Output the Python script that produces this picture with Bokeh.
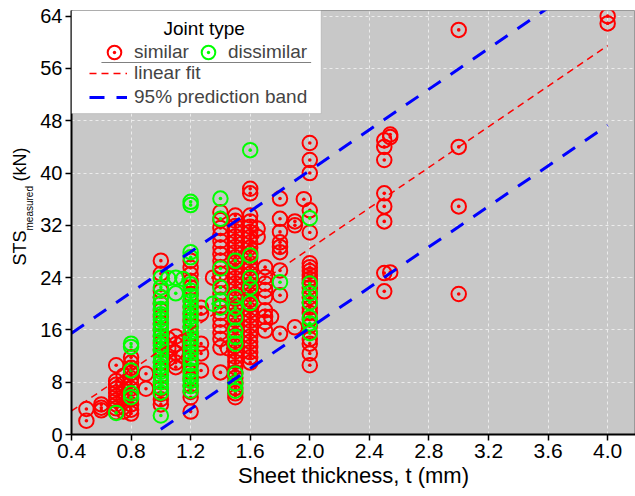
import math
from bokeh.plotting import figure
from bokeh.layouts import row
from bokeh.models import (Range1d, FixedTicker, PrintfTickFormatter, Legend, LegendItem,
                          BoxAnnotation, Label, ColumnDataSource)
from bokeh.embed import file_html
from bokeh.resources import INLINE

# ---------------- data ----------------
similar_t = [0.5, 0.6, 0.7, 0.75, 0.8, 0.9, 1.0, 1.05, 1.1, 1.15, 1.2, 1.27, 1.35, 1.4, 1.45,
             1.5, 1.6, 1.65, 1.7, 1.74, 1.8, 1.9, 1.96, 2.0, 2.5, 2.54, 3.0, 4.0]
similar_sts = [
    [3.9, 2.1],
    [4.6, 4.1, 3.7],
    [10.6, 8.2, 7.6, 7.0, 6.4, 5.8, 5.2, 4.6, 4.0, 3.4],
    [9.0, 7.8, 6.6, 5.4, 4.2, 3.5],
    [11.8, 11.0, 10.2, 9.4, 8.6, 7.8, 7.0, 6.2, 5.4, 4.6, 3.8, 3.2],
    [9.3, 7.0],
    [26.6, 24.6, 22.0, 21.0, 20.0, 19.0, 18.0, 17.0, 16.0, 15.0, 14.0, 13.0, 12.0, 11.0, 10.0,
     9.0, 8.0, 7.0, 6.2, 5.4, 4.6],
    [14.6, 13.2, 11.6],
    [15.0, 13.8, 12.5, 11.0, 10.3],
    [14.2, 12.0],
    [26.6, 25.5, 24.5, 23.5, 22.5, 21.5, 20.5, 19.5, 18.5, 17.5, 16.5, 15.5, 14.5, 13.5, 12.5,
     11.5, 10.5, 9.5, 8.5, 7.5, 6.5, 5.7, 3.5],
    [19.4, 18.5, 13.9, 12.4, 9.8],
    [24.0],
    [34.0, 32.8, 31.6, 30.6, 29.6, 28.6, 27.6, 26.6, 25.6, 24.6, 23.6, 22.6, 21.6, 20.6, 19.6,
     18.6, 17.6, 16.6, 15.6, 14.6, 13.3, 9.5],
    [13.2],
    [33.5, 32.7, 31.9, 31.1, 30.3, 29.5, 28.7, 27.9, 27.1, 26.3, 25.5, 24.7, 23.9, 23.1, 22.3,
     21.5, 20.7, 19.9, 19.1, 18.3, 17.5, 16.7, 15.9, 15.1, 14.3, 13.5, 12.7, 11.9, 11.1, 10.3,
     9.5, 8.7, 7.9, 7.1, 6.3, 5.7],
    [37.6, 36.9, 33.5, 32.6, 31.8, 31.0, 30.2, 29.4, 28.6, 27.8, 27.0, 26.2, 25.4, 24.6, 23.8,
     23.0, 22.2, 21.4, 20.6, 19.8, 19.0, 18.2, 17.4, 16.6, 15.8, 15.0, 14.2, 13.4, 12.6, 11.8, 11.0],
    [31.5, 30.2],
    [25.6, 24.1, 23.1, 22.1, 21.0, 19.0, 18.0, 17.2, 15.9],
    [18.0],
    [36.1, 33.0, 31.0, 29.4, 28.7, 27.9, 25.1, 21.3, 15.4],
    [32.6, 32.0, 16.4],
    [36.0],
    [44.6, 42.0, 40.0, 34.3, 30.9, 26.2, 25.6, 25.0, 24.4, 23.8, 23.2, 22.5, 21.8, 21.0, 20.2,
     19.4, 18.6, 17.6, 16.6, 15.6, 14.6, 13.9, 12.4, 10.6],
    [45.0, 44.0, 42.0, 36.9, 34.9, 32.6, 24.7, 21.9],
    [45.9, 45.5, 24.8],
    [61.9, 44.0, 34.9, 21.5],
    [64.0, 62.9],
]

dissimilar_t = [0.7, 0.8, 1.0, 1.05, 1.1, 1.15, 1.2, 1.35, 1.4, 1.5, 1.6, 1.8, 2.0]
dissimilar_sts = [
    [3.3],
    [13.9, 13.4, 9.8, 6.3, 5.7],
    [24.0, 22.5, 21.0, 20.0, 19.2, 18.4, 17.6, 16.8, 16.0, 15.2, 14.4, 13.6, 12.8, 12.0, 11.2,
     10.4, 9.6, 8.8, 8.0, 7.2, 6.4, 2.9],
    [23.9],
    [24.0, 21.6],
    [23.8],
    [35.6, 35.1, 27.9, 27.1, 23.0, 22.0, 21.2, 20.4, 19.6, 18.8, 18.0, 17.2, 16.4, 15.6, 14.8,
     14.0, 13.2, 12.4, 11.6, 10.8, 9.8, 9.0, 8.2, 7.4, 6.7],
    [20.0],
    [36.1, 33.0, 25.4, 22.5, 20.5, 19.4],
    [26.6, 21.0, 19.4, 17.9, 15.9, 14.9, 13.9, 9.3, 7.8, 6.7],
    [43.5, 27.4, 24.0, 22.5, 20.1],
    [23.3],
    [33.1, 23.1, 21.6, 20.2, 17.9, 17.0, 15.5],
]

fit_t = [0.4, 4.0]
fit_sts = [3.6, 59.5]
band_t = [0.4, 4.0]
band_upper = [15.5, 71.5]
band_lower = [-8.5, 47.3]

x_ticks = [0.4, 0.8, 1.2, 1.6, 2.0, 2.4, 2.8, 3.2, 3.6, 4.0]
y_ticks = [0, 8, 16, 24, 32, 40, 48, 56, 64]


def flatten(ts, vals):
    xs, ys = [], []
    for t, vs in zip(ts, vals):
        xs += [t] * len(vs)
        ys += vs
    return xs, ys


sx, sy = flatten(similar_t, similar_sts)
dx, dy = flatten(dissimilar_t, dissimilar_sts)

FONT = "Liberation Sans"
LEFT_W = 37  # width of the strip carrying the y-axis title

p = figure(width=635 - LEFT_W, height=496, x_range=Range1d(0.4, 4.187), y_range=Range1d(0, 64.87),
           output_backend="svg", toolbar_location=None,
           min_border_left=70 - LEFT_W, min_border_right=0, min_border_top=10, min_border_bottom=62,
           background_fill_color="#c8c8c8", border_fill_color="white",
           outline_line_color="#9a9a9a", outline_line_width=1)

sim = p.scatter(x="x", y="y", source=ColumnDataSource(dict(x=sx, y=sy)), marker="circle_dot",
                size=14.5, line_color="#ff0000", fill_alpha=0, line_width=2)
dis = p.scatter(x="x", y="y", source=ColumnDataSource(dict(x=dx, y=dy)), marker="circle_dot",
                size=14.5, line_color="#00ff00", fill_alpha=0, line_width=2)
fit = p.line(fit_t, fit_sts, line_color="#ff0000", line_width=1.5, line_dash="7 5")
up = p.line(band_t, band_upper, line_color="#0000ff", line_width=3, line_dash="15 12")
lo = p.line(band_t, band_lower, line_color="#0000ff", line_width=3, line_dash="15 12")

# axes
for ax in (p.xaxis[0], p.yaxis[0]):
    ax.axis_line_color = "black"
    ax.axis_line_width = 2
    ax.major_tick_line_color = "black"
    ax.major_tick_line_width = 1.5
    ax.major_tick_out = 6
    ax.major_tick_in = 0
    ax.minor_tick_line_color = None
    ax.major_label_text_font = FONT
    ax.major_label_text_color = "black"
    ax.major_label_standoff = 3
p.xaxis.major_label_text_font_size = "21px"
p.yaxis.major_label_text_font_size = "20px"

p.xaxis.ticker = FixedTicker(ticks=x_ticks)
p.xaxis.formatter = PrintfTickFormatter(format="%.1f")
p.yaxis.ticker = FixedTicker(ticks=y_ticks)
p.yaxis.formatter = PrintfTickFormatter(format="%d")
p.xaxis.axis_label = "Sheet thickness, t (mm)"
p.xaxis.axis_label_text_font = FONT
p.xaxis.axis_label_text_font_size = "22px"
p.xaxis.axis_label_text_font_style = "normal"
p.xaxis.axis_label_text_color = "black"
p.xaxis.axis_label_standoff = 2

# grid
for g in (p.xgrid[0], p.ygrid[0]):
    g.grid_line_color = "#ececec"
    g.grid_line_dash = "3 3"
    g.grid_line_width = 1
p.xgrid.ticker = FixedTicker(ticks=x_ticks)
p.ygrid.ticker = FixedTicker(ticks=y_ticks)

# legend background and separator
p.add_layout(BoxAnnotation(left=0.4, right=2.076, bottom=49.1, top=64.87, fill_color="white",
                           fill_alpha=1, line_color="#8a8a8a", line_width=1))
p.add_layout(BoxAnnotation(left=0.601, right=2.009, bottom=56.84, top=56.99, fill_color="#808080",
                           fill_alpha=1, line_alpha=0))
p.add_layout(Label(x=1.291, y=62.07, text="Joint type", text_align="center", text_baseline="middle",
                   text_font=FONT, text_font_size="19px", text_color="black"))

leg1 = Legend(items=[LegendItem(label="similar", renderers=[sim]),
                     LegendItem(label="dissimilar", renderers=[dis])],
              orientation="horizontal", location=(26, 365), padding=0, margin=0, spacing=2,
              glyph_width=34, glyph_height=34, label_standoff=3, label_height=20,
              label_text_font=FONT, label_text_font_size="19px",
              background_fill_alpha=0, border_line_alpha=0)
leg2 = Legend(items=[LegendItem(label="linear fit", renderers=[fit]),
                     LegendItem(label="95% prediction band", renderers=[up])],
              orientation="vertical", location=(18, 326), padding=0, margin=0, spacing=2,
              glyph_width=38, glyph_height=20, label_standoff=7, label_height=20,
              label_text_font=FONT, label_text_font_size="19px",
              background_fill_alpha=0, border_line_alpha=0)
p.add_layout(leg1)
p.add_layout(leg2)

# strip on the left carrying the y-axis title with its subscript
# (the row aligns its frame with the main plot: frame bottom sits at canvas y = 434)
q = figure(width=LEFT_W, height=496, x_range=Range1d(0, LEFT_W), y_range=Range1d(0, 424),
           output_backend="svg", toolbar_location=None, min_border=0, title=None,
           outline_line_color=None, background_fill_color="white", border_fill_color="white")
q.axis.visible = False
q.grid.visible = False
q.add_layout(Label(x=29, y=434 - 265, x_units="screen", y_units="screen", text="STS",
                   angle=math.pi / 2, text_font=FONT, text_font_size="18px", text_color="black"))
q.add_layout(Label(x=34, y=434 - 230, x_units="screen", y_units="screen", text="measured",
                   angle=math.pi / 2, text_font=FONT, text_font_size="10px", text_color="black"))
q.add_layout(Label(x=29, y=434 - 181, x_units="screen", y_units="screen", text="(kN)",
                   angle=math.pi / 2, text_font=FONT, text_font_size="18px", text_color="black"))

layout = row(q, p, spacing=0)
open("out.html", "w").write(file_html(layout, INLINE))
